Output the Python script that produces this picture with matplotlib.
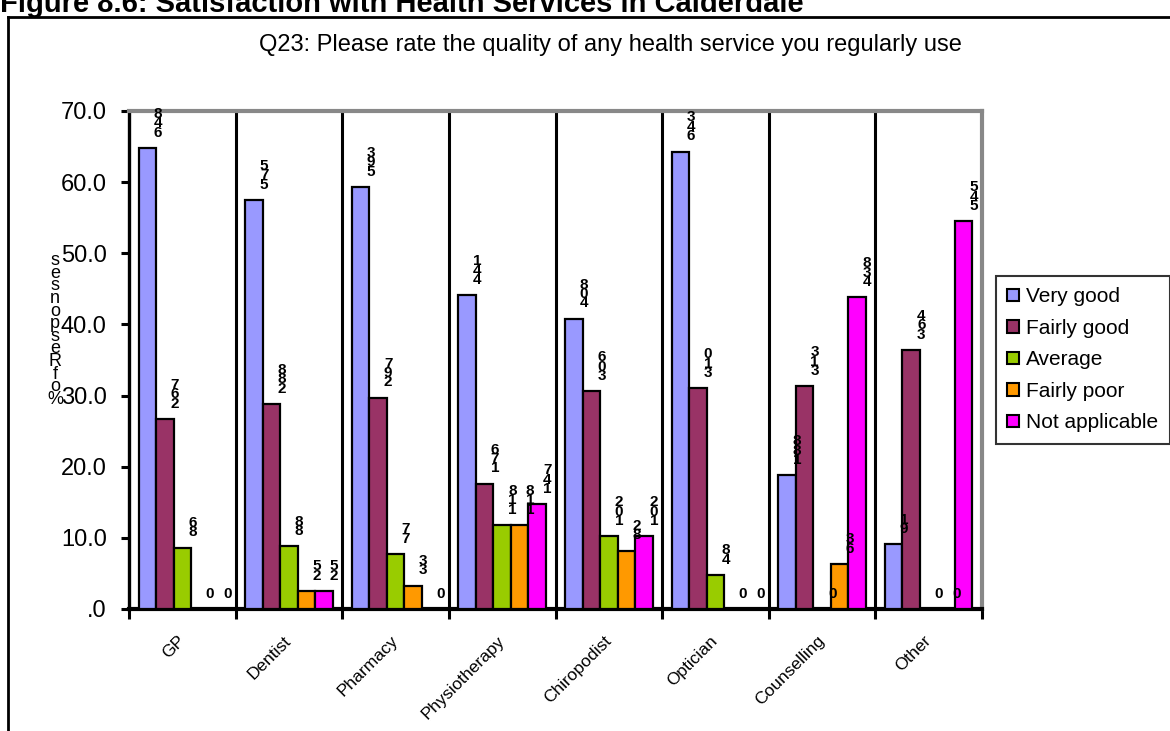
import numpy as np
import matplotlib.pyplot as plt
from matplotlib.lines import Line2D
from matplotlib.patches import Patch

plt.rcParams['font.family'] = ['Liberation Sans', 'DejaVu Sans']

# Datos de la encuesta (% de respuestas)
services = ['GP', 'Dentist', 'Pharmacy', 'Physiotherapy', 'Chiropodist',
            'Optician', 'Counselling', 'Other']
ratings = ['Very good', 'Fairly good', 'Average', 'Fairly poor', 'Not applicable']
very_good = [64.8, 57.5, 59.3, 44.1, 40.8, 64.3, 18.8, 9.1]
fairly_good = [26.7, 28.8, 29.7, 17.6, 30.6, 31.0, 31.3, 36.4]
average = [8.6, 8.8, 7.7, 11.8, 10.2, 4.8, 0, 0]
fairly_poor = [0, 2.5, 3.3, 11.8, 8.2, 0, 6.3, 0]
not_applicable = [0, 2.5, 0, 14.7, 10.2, 0, 43.8, 54.5]
series = [very_good, fairly_good, average, fairly_poor, not_applicable]
colors = ['#9999FF', '#993366', '#99CC00', '#FF9900', '#FF00FF']


def stacked(v):
    # etiqueta vertical: dígitos apilados en orden inverso, sin el punto
    if v == 0:
        return '0'
    return '\n'.join(reversed(f'{v:.1f}'.replace('.', '')))


fig = plt.figure(figsize=(11.7, 7.31), dpi=100)
ax = fig.add_axes([0.1103, 0.1669, 0.729, 0.6813])

x = np.arange(len(services))
w = 0.164
for i, (vals, c) in enumerate(zip(series, colors)):
    pos = x + (i - 2) * w
    ax.bar(pos, vals, width=w, color=c, edgecolor='black', linewidth=1.6, zorder=3)
    for p, v in zip(pos, vals):
        ax.annotate(stacked(v), (p + w / 2, v), xytext=(1, 6),
                    textcoords='offset points', ha='center', va='bottom',
                    fontsize=11, fontweight='bold', linespacing=0.58, zorder=5)

# separadores entre servicios
for b in np.arange(0.5, len(services) - 0.5, 1):
    ax.axvline(b, color='black', linewidth=2.2, zorder=2)

ax.set_xlim(-0.5, len(services) - 0.5)
ax.set_ylim(0, 70)
yt = np.arange(0, 71, 10)
ax.set_yticks(yt)
ax.set_yticklabels(['.0'] + [f'{t:.1f}' for t in yt[1:]], fontsize=17)
ax.tick_params(axis='y', length=6, width=2.2, pad=10)

ax.set_xticks(x)
ax.set_xticklabels(services, rotation=45, ha='right', va='center',
                   rotation_mode='anchor', fontsize=12.5)
ax.tick_params(axis='x', which='major', length=0, pad=21)
ax.set_xticks(np.arange(-0.5, len(services), 1), minor=True)
ax.tick_params(axis='x', which='minor', length=7, width=2.2)

ax.spines['left'].set_linewidth(2.4)
ax.spines['bottom'].set_linewidth(3)
for s in ['top', 'right']:
    ax.spines[s].set_color('#888888')
    ax.spines[s].set_linewidth(3)

# etiqueta del eje y apilada
ylab = '\n'.join(reversed('% of Responses'.replace(' ', '')))
fig.text(55 / 1170, 1 - 330 / 731, ylab, ha='center', va='center',
         fontsize=13, linespacing=0.66)

fig.text(610 / 1170, 1 - 45 / 731,
         'Q23: Please rate the quality of any health service you regularly use',
         ha='center', va='center', fontsize=17)

fig.text(0.0, 1 - 12 / 731,
         'Figure 8.6: Satisfaction with Health Services in Calderdale',
         ha='left', va='baseline', fontsize=21, fontweight='bold')

# marco exterior
fig.add_artist(Line2D([8 / 1170, 8 / 1170], [0, 1 - 17 / 731],
                      transform=fig.transFigure, color='black', linewidth=2))
fig.add_artist(Line2D([8 / 1170, 1.0], [1 - 17 / 731, 1 - 17 / 731],
                      transform=fig.transFigure, color='black', linewidth=2))

handles = [Patch(facecolor=c, edgecolor='black', linewidth=1.5) for c in colors]
leg = fig.legend(handles, ratings, loc='upper left',
                 bbox_to_anchor=(996 / 1170, 1 - 276 / 731), borderaxespad=0,
                 fontsize=15, handlelength=0.55, handleheight=0.55,
                 handletextpad=0.35, labelspacing=0.6, borderpad=0.55,
                 fancybox=False, edgecolor='black')
leg.get_frame().set_linewidth(1.5)

fig.savefig('out.png', dpi=100)
